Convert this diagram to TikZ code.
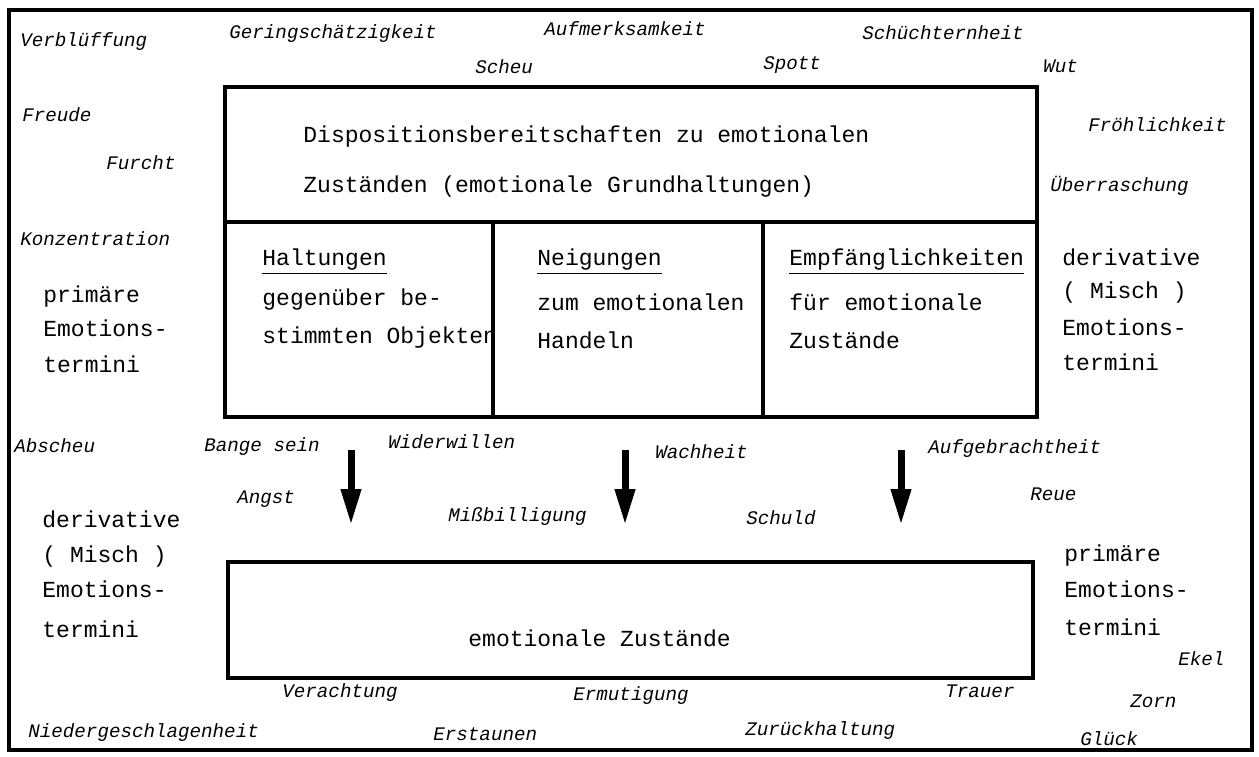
\documentclass[tikz,border=0pt]{standalone}
\usepackage{fontspec}
\setmonofont{Liberation Mono}
\usetikzlibrary{arrows.meta}
\begin{document}
\begin{tikzpicture}[x=0.5pt,y=-0.5pt,
  box/.style={line width=2pt},
  txt/.style={font=\fontsize{11.5}{13}\selectfont\ttfamily, anchor=west, inner sep=0pt, text height=0.75em, text depth=0.2em},
  lbl/.style={font=\fontsize{9.6}{11}\selectfont\ttfamily\itshape, anchor=west, inner sep=0pt, text height=0.75em, text depth=0.2em},
  arr/.style={line width=3.5pt, -{Triangle[width=9.5pt,length=18pt]}}]
\useasboundingbox (0,0) rectangle (1259,756);
% frames
\draw[line width=1.6pt] (9,10) rectangle (1252,750);
\draw[box] (225,87) rectangle (1037,417);
\draw[box] (225,222) -- (1037,222);
\draw[box] (493,222) -- (493,417);
\draw[box] (763,222) -- (763,417);
\draw[box] (228,562) rectangle (1033,678);
% arrows
\coordinate (a1s) at (351,450); \coordinate (a1e) at (351,525);
\coordinate (a2s) at (625,450); \coordinate (a2e) at (625,525);
\coordinate (a3s) at (901,450); \coordinate (a3e) at (901,525);
\draw[arr] (a1s) -- (a1e);
\draw[arr] (a2s) -- (a2e);
\draw[arr] (a3s) -- (a3e);
% box texts
\node[txt] (d1) at (303,137) {Dispositionsbereitschaften zu emotionalen};
\node[txt] (d2) at (303,187) {Zuständen (emotionale Grundhaltungen)};
\node[txt] (h1) at (262,260) {\underline{Haltungen}};
\node[txt] (h2) at (262,300) {gegenüber be-};
\node[txt] (h3) at (262,338) {stimmten Objekten};
\node[txt] (n1) at (537,260) {\underline{Neigungen}};
\node[txt] (n2) at (537,305) {zum emotionalen};
\node[txt] (n3) at (537,343) {Handeln};
\node[txt] (e1) at (789,260) {\underline{Empfänglichkeiten}};
\node[txt] (e2) at (789,305) {für emotionale};
\node[txt] (e3) at (789,343) {Zustände};
\node[txt] (ez) at (468,641) {emotionale Zustände};
% side blocks
\node[txt] (lp1) at (43,297) {primäre};
\node[txt] (lp2) at (43,331) {Emotions-};
\node[txt] (lp3) at (43,367) {termini};
\node[txt] (rd1) at (1062,260) {derivative};
\node[txt] (rd2) at (1062,293) {( Misch )};
\node[txt] (rd3) at (1062,330) {Emotions-};
\node[txt] (rd4) at (1062,365) {termini};
\node[txt] (ld1) at (42,522) {derivative};
\node[txt] (ld2) at (42,557) {( Misch )};
\node[txt] (ld3) at (42,592) {Emotions-};
\node[txt] (ld4) at (42,632) {termini};
\node[txt] (rp1) at (1064,556) {primäre};
\node[txt] (rp2) at (1064,592) {Emotions-};
\node[txt] (rp3) at (1064,630) {termini};
% emotion words
\node[lbl] (w01) at (20,41) {Verblüffung};
\node[lbl] (w02) at (229,33) {Geringschätzigkeit};
\node[lbl] (w03) at (544,30) {Aufmerksamkeit};
\node[lbl] (w04) at (862,34) {Schüchternheit};
\node[lbl] (w05) at (475,68) {Scheu};
\node[lbl] (w06) at (763,64) {Spott};
\node[lbl] (w07) at (1043,67) {Wut};
\node[lbl] (w08) at (22,116) {Freude};
\node[lbl] (w09) at (106,164) {Furcht};
\node[lbl] (w10) at (1088,126) {Fröhlichkeit};
\node[lbl] (w11) at (1050,186) {Überraschung};
\node[lbl] (w12) at (20,240) {Konzentration};
\node[lbl] (w13) at (14,447) {Abscheu};
\node[lbl] (w14) at (204,446) {Bange sein};
\node[lbl] (w15) at (388,443) {Widerwillen};
\node[lbl] (w16) at (655,453) {Wachheit};
\node[lbl] (w17) at (928,448) {Aufgebrachtheit};
\node[lbl] (w18) at (237,498) {Angst};
\node[lbl] (w19) at (448,516) {Mißbilligung};
\node[lbl] (w20) at (746,519) {Schuld};
\node[lbl] (w21) at (1030,495) {Reue};
\node[lbl] (w22) at (1178,660) {Ekel};
\node[lbl] (w23) at (282,692) {Verachtung};
\node[lbl] (w24) at (573,695) {Ermutigung};
\node[lbl] (w25) at (945,692) {Trauer};
\node[lbl] (w26) at (1130,702) {Zorn};
\node[lbl] (w27) at (28,732) {Niedergeschlagenheit};
\node[lbl] (w28) at (433,735) {Erstaunen};
\node[lbl] (w29) at (745,730) {Zurückhaltung};
\node[lbl] (w30) at (1080,740) {Glück};
\end{tikzpicture}
\end{document}
